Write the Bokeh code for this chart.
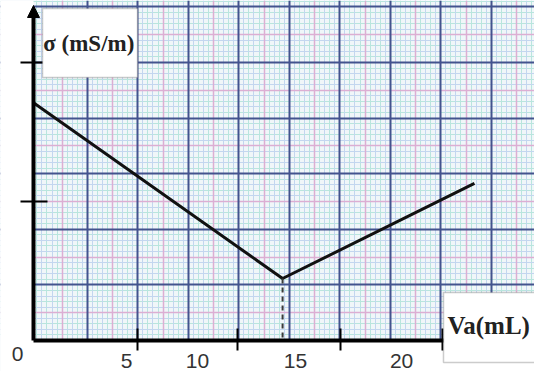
from bokeh.plotting import figure
from bokeh.models import (FixedTicker, Grid, Range1d, BoxAnnotation, Label,
                          Arrow, NormalHead)
from bokeh.embed import file_html
from bokeh.resources import INLINE

# ---- data ----
va = [0, 14.8, 26.2]            # added volume, mL
sigma = [1.71, 0.446, 1.13]     # conductivity (arbitrary units of the grid)
v_eq = 14.8
sigma_eq = 0.446
x_tick_labels = ["5", "10", "15", "20"]
y_ticks = [1, 2]

# ---- layout helpers (positions/styles, not data) ----
PX_X = 16.83     # pixels per mL
PX_Y = 139.0     # pixels per unit of sigma
X_START, X_END = -33 / PX_X, (534 - 33) / PX_X
Y_START, Y_END = -(371 - 340) / PX_Y, 340 / PX_Y
x_label_pos = [5.53, 9.74, 15.57, 21.87]
x_tick_marks = [6.18, 12.12, 18.24, 24.30]

p = figure(width=534, height=371,
           x_range=Range1d(X_START, X_END), y_range=Range1d(Y_START, Y_END),
           output_backend="svg", toolbar_location=None,
           min_border=0, background_fill_color="#f0f6f9",
           border_fill_color="white", outline_line_color=None)
p.grid.visible = False

# graph-paper grid: fine (alternating cyan / light blue), medium (pink), major (navy)
off = 0.2
fx = [off + 0.3 * k for k in range(0, 100) if off + 0.3 * k < X_END]
fy = [0.04 * k for k in range(1, 62) if 0.04 * k < Y_END]
fine_x_a, fine_x_b = fx[0::2], fx[1::2]
fine_y_a, fine_y_b = fy[0::2], fy[1::2]
mid_x = [off + 1.5 + 3 * k for k in range(0, 10) if off + 1.5 + 3 * k < X_END]
mid_y = [0.2 + 0.4 * k for k in range(0, 7) if 0.2 + 0.4 * k < Y_END]
maj_x = [off + 3 * k for k in range(1, 10) if off + 3 * k < X_END]
maj_y = [0.4 * k for k in range(1, 7) if 0.4 * k < Y_END]

for ticks, dim, color, width in [
        (fine_x_a, 0, "#b9e5de", 1), (fine_y_a, 1, "#b9e5de", 1),
        (fine_x_b, 0, "#c3d6ef", 1), (fine_y_b, 1, "#c3d6ef", 1),
        (mid_x, 0, "#dcaed3", 1.5), (mid_y, 1, "#dcaed3", 1.5),
        (maj_x, 0, "#43538e", 2), (maj_y, 1, "#43538e", 2)]:
    p.add_layout(Grid(dimension=dim, ticker=FixedTicker(ticks=ticks),
                      grid_line_color=color, grid_line_width=width))

# white paper outside the graph area (left of y axis, below x axis)
p.quad(left=[X_START, X_START], right=[0, X_END],
       bottom=[Y_START, Y_START], top=[Y_END, 0],
       fill_color="white", line_color=None)

# data line and equivalence drop line
p.line(va, sigma, line_width=3, line_color="#111111")
p.segment(x0=[v_eq], y0=[sigma_eq], x1=[v_eq], y1=[0],
          line_dash="5 4", line_width=2, line_color="#3a3a3a")

# axes
xa = p.xaxis[0]
xa.fixed_location = 0
xa.bounds = (0, X_END)
xa.ticker = FixedTicker(ticks=x_label_pos, minor_ticks=x_tick_marks)
xa.major_label_overrides = {pos: lab for pos, lab in zip(x_label_pos, x_tick_labels)}
xa.axis_line_width = 4
xa.axis_line_color = "black"
xa.major_tick_in = 0
xa.major_tick_out = 0
xa.major_tick_line_color = None
xa.minor_tick_in = 12
xa.minor_tick_out = 10
xa.minor_tick_line_width = 2
xa.minor_tick_line_color = "black"
xa.major_label_standoff = 3
xa.major_label_text_font = "Liberation Sans"
xa.major_label_text_font_size = "21px"
xa.major_label_text_color = "#333333"

ya = p.yaxis[0]
ya.fixed_location = 0
ya.bounds = (0, 2.33)
ya.ticker = FixedTicker(ticks=y_ticks)
ya.major_label_overrides = {t: "" for t in y_ticks}
ya.major_label_text_font_size = "0px"
ya.axis_line_width = 4
ya.axis_line_color = "black"
ya.major_tick_in = 14
ya.major_tick_out = 13
ya.major_tick_line_width = 2
ya.major_tick_line_color = "black"
ya.minor_tick_line_color = None

# arrow head on the y axis
p.add_layout(Arrow(end=NormalHead(size=12, fill_color="black", line_color="black"),
                   x_start=0, y_start=2.2, x_end=0, y_end=2.41, line_alpha=0))

# label boxes
p.add_layout(BoxAnnotation(left=0.535, right=6.18, bottom=1.892, top=2.388,
                           fill_color="white", fill_alpha=1,
                           line_color="#555555", line_width=1.5))
p.add_layout(BoxAnnotation(left=24.36, right=31, bottom=-0.158, top=0.345,
                           fill_color="white", fill_alpha=1,
                           line_color="#555555", line_width=1.5))

p.add_layout(Label(x=0.58, y=2.137, text="σ (mS/m)", text_font="Liberation Serif",
                   text_font_style="bold", text_font_size="23px",
                   text_baseline="middle", text_color="#222222"))
p.add_layout(Label(x=24.6, y=0.108, text="Va(mL)", text_font="Liberation Serif",
                   text_font_style="bold", text_font_size="25px",
                   text_baseline="middle", text_color="#222222"))
p.add_layout(Label(x=-0.95, y=-0.045, text="0", text_font="Liberation Sans",
                   text_font_size="21px", text_align="center",
                   text_baseline="top", text_color="#333333"))

open("out.html", "w").write(file_html(p, INLINE))
